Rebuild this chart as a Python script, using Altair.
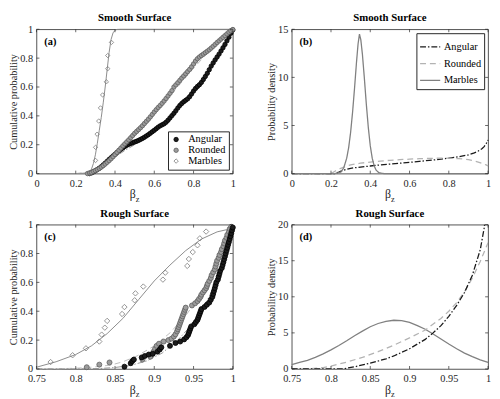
import altair as alt
import pandas as pd

FONT = "Liberation Serif, Times New Roman, Times, serif"
AX = "#262626"
W, H = 200, 147
ORDER = ["Angular", "Rounded", "Marbles"]

# ---------------- (a) Smooth surface, cumulative probability ----------------
a_ang_x = [0.27, 0.28, 0.29, 0.30, 0.31, 0.32, 0.33, 0.34, 0.35, 0.36, 0.37, 0.38, 0.39, 0.40, 0.41,
           0.42, 0.43, 0.44, 0.45, 0.46, 0.47, 0.48, 0.49, 0.50, 0.51, 0.52, 0.53, 0.54, 0.55, 0.56,
           0.57, 0.58, 0.59, 0.60, 0.61, 0.62, 0.63, 0.64, 0.65, 0.66, 0.67, 0.68, 0.69, 0.70, 0.71,
           0.72, 0.73, 0.74, 0.75, 0.76, 0.77, 0.78, 0.79, 0.80, 0.81, 0.82, 0.83, 0.84, 0.85, 0.86,
           0.87, 0.88, 0.89, 0.90, 0.91, 0.92, 0.93, 0.94, 0.95, 0.96, 0.97, 0.98, 0.99, 1.00]
a_ang_y = [0.000, 0.005, 0.012, 0.020, 0.028, 0.037, 0.048, 0.060, 0.072, 0.085, 0.098, 0.110, 0.122,
           0.134, 0.146, 0.158, 0.168, 0.178, 0.188, 0.196, 0.203, 0.209, 0.214, 0.219, 0.224, 0.230,
           0.237, 0.244, 0.252, 0.261, 0.270, 0.280, 0.290, 0.300, 0.311, 0.322, 0.331, 0.338, 0.345,
           0.356, 0.370, 0.386, 0.402, 0.418, 0.436, 0.455, 0.472, 0.486, 0.498, 0.508, 0.518, 0.533,
           0.552, 0.572, 0.590, 0.604, 0.616, 0.632, 0.652, 0.673, 0.695, 0.720, 0.745, 0.767, 0.788,
           0.808, 0.828, 0.850, 0.872, 0.895, 0.920, 0.945, 0.972, 0.995]
a_rnd_x = [0.26, 0.27, 0.28, 0.29, 0.30, 0.31, 0.32, 0.33, 0.34, 0.35, 0.36, 0.37, 0.38, 0.39, 0.40,
           0.41, 0.42, 0.43, 0.44, 0.45, 0.46, 0.47, 0.48, 0.49, 0.50, 0.51, 0.52, 0.53, 0.54, 0.55,
           0.56, 0.57, 0.58, 0.59, 0.60, 0.61, 0.62, 0.63, 0.64, 0.65, 0.66, 0.67, 0.68, 0.69, 0.70,
           0.71, 0.72, 0.73, 0.74, 0.75, 0.76, 0.77, 0.78, 0.79, 0.80, 0.81, 0.82, 0.83, 0.84, 0.85,
           0.86, 0.87, 0.88, 0.89, 0.90, 0.91, 0.92, 0.93, 0.94, 0.95, 0.96, 0.97, 0.98, 0.99, 1.00]
a_rnd_y = [0.000, 0.004, 0.009, 0.015, 0.021, 0.028, 0.036, 0.045, 0.055, 0.066, 0.078, 0.090, 0.103,
           0.117, 0.132, 0.147, 0.162, 0.177, 0.192, 0.206, 0.220, 0.234, 0.249, 0.264, 0.279, 0.292,
           0.305, 0.318, 0.332, 0.347, 0.362, 0.377, 0.393, 0.410, 0.427, 0.443, 0.458, 0.472, 0.487,
           0.503, 0.520, 0.538, 0.556, 0.575, 0.600, 0.615, 0.630, 0.646, 0.662, 0.677, 0.692, 0.707,
           0.722, 0.740, 0.760, 0.780, 0.796, 0.808, 0.818, 0.828, 0.838, 0.848, 0.858, 0.870, 0.882,
           0.895, 0.908, 0.920, 0.932, 0.944, 0.956, 0.968, 0.980, 0.990, 0.998]
a_mar_x = [0.275, 0.301, 0.301, 0.309, 0.317, 0.326, 0.337, 0.356, 0.363, 0.363, 0.382]
a_mar_y = [0.000, 0.091, 0.182, 0.273, 0.364, 0.455, 0.545, 0.636, 0.727, 0.818, 0.909]
a_fit_mar_x = [0.0, 0.25, 0.27, 0.28, 0.29, 0.30, 0.31, 0.32, 0.33, 0.34, 0.35, 0.36, 0.37, 0.38,
               0.39, 0.40, 0.41, 0.43, 1.0]
a_fit_mar_y = [0.0, 0.0, 0.01, 0.03, 0.07, 0.13, 0.21, 0.30, 0.39, 0.49, 0.60, 0.72, 0.84, 0.93,
               0.975, 0.993, 0.999, 1.0, 1.0]
a_fit_ang_x = [0.22, 0.25, 0.30, 0.35, 0.40, 0.45, 0.50, 0.60, 0.70, 0.80, 0.90, 0.95, 1.0]
a_fit_ang_y = [0.0, 0.005, 0.03, 0.07, 0.115, 0.16, 0.20, 0.30, 0.41, 0.56, 0.76, 0.87, 1.0]
a_fit_rnd_x = [0.20, 0.25, 0.30, 0.40, 0.50, 0.60, 0.70, 0.80, 0.90, 1.0]
a_fit_rnd_y = [0.0, 0.01, 0.035, 0.13, 0.265, 0.41, 0.57, 0.73, 0.88, 1.0]

# ---------------- (b) Smooth surface, probability density ----------------
b_ang_x = [0.0, 0.22, 0.24, 0.26, 0.28, 0.30, 0.35, 0.40, 0.45, 0.50, 0.55, 0.60, 0.65, 0.70, 0.75,
           0.80, 0.85, 0.90, 0.93, 0.95, 0.97, 0.98, 0.99, 1.0]
b_ang_y = [0.0, 0.0, 0.15, 0.33, 0.45, 0.55, 0.68, 0.79, 0.90, 0.99, 1.08, 1.17, 1.27, 1.37, 1.48,
           1.60, 1.75, 1.95, 2.15, 2.35, 2.60, 2.80, 3.10, 3.50]
b_rnd_x = [0.0, 0.20, 0.22, 0.25, 0.28, 0.30, 0.35, 0.40, 0.45, 0.50, 0.55, 0.60, 0.65, 0.70, 0.75,
           0.80, 0.85, 0.90, 0.93, 0.95, 0.97, 0.99, 1.0]
b_rnd_y = [0.0, 0.0, 0.25, 0.55, 0.78, 0.90, 1.08, 1.20, 1.30, 1.38, 1.45, 1.50, 1.55, 1.58, 1.60,
           1.60, 1.56, 1.45, 1.32, 1.20, 1.07, 0.90, 0.80]
b_mar_x = [0.0, 0.22, 0.25, 0.265, 0.28, 0.29, 0.30, 0.31, 0.32, 0.33, 0.338, 0.345, 0.352, 0.36,
           0.37, 0.38, 0.39, 0.40, 0.41, 0.42, 0.43, 0.445, 0.47, 1.0]
b_mar_y = [0.0, 0.0, 0.15, 0.6, 1.6, 2.7, 4.3, 6.4, 8.9, 11.6, 13.5, 14.5, 13.9, 12.4, 9.9, 7.2,
           4.8, 2.9, 1.6, 0.8, 0.35, 0.08, 0.0, 0.0]

# ---------------- (c) Rough surface, cumulative probability ----------------
c_ang_x = [0.862, 0.870, 0.872, 0.874, 0.884, 0.888, 0.893, 0.898, 0.904, 0.907, 0.909, 0.920, 0.927,
           0.933, 0.938, 0.941, 0.943, 0.944, 0.945, 0.946, 0.947, 0.951, 0.953, 0.955, 0.956, 0.957,
           0.958, 0.959, 0.960, 0.964, 0.967, 0.970, 0.972, 0.974, 0.975, 0.976, 0.977, 0.978, 0.979,
           0.981, 0.982, 0.983, 0.984, 0.986, 0.987, 0.988, 0.989, 0.990, 0.991, 0.992, 0.993, 0.994,
           0.995, 0.996, 0.997, 0.998, 0.999, 1.000]
c_ang_y = [0.016, 0.040, 0.055, 0.065, 0.080, 0.090, 0.100, 0.105, 0.120, 0.135, 0.150, 0.160, 0.180,
           0.190, 0.205, 0.220, 0.235, 0.250, 0.265, 0.280, 0.295, 0.310, 0.325, 0.340, 0.355, 0.370,
           0.385, 0.400, 0.415, 0.430, 0.445, 0.460, 0.480, 0.500, 0.520, 0.540, 0.560, 0.580, 0.600,
           0.620, 0.640, 0.660, 0.680, 0.700, 0.720, 0.740, 0.760, 0.780, 0.800, 0.820, 0.840, 0.860,
           0.880, 0.900, 0.920, 0.940, 0.960, 0.980]
c_rnd_x = [0.814, 0.830, 0.843, 0.885, 0.895, 0.898, 0.899, 0.901, 0.903, 0.906, 0.912, 0.918, 0.922,
           0.925, 0.927, 0.929, 0.930, 0.931, 0.932, 0.933, 0.934, 0.935, 0.936, 0.937, 0.938, 0.939,
           0.940, 0.948, 0.952, 0.955, 0.957, 0.959, 0.960, 0.962, 0.964, 0.966, 0.967, 0.968, 0.970,
           0.972, 0.973, 0.975, 0.977, 0.978, 0.979, 0.980, 0.982, 0.983, 0.985, 0.986, 0.988, 0.989,
           0.990, 0.992, 0.993, 0.995, 0.996, 0.998]
c_rnd_y = [0.012, 0.030, 0.045, 0.065, 0.085, 0.105, 0.120, 0.140, 0.160, 0.175, 0.190, 0.200, 0.210,
           0.225, 0.240, 0.260, 0.275, 0.290, 0.305, 0.320, 0.335, 0.350, 0.365, 0.380, 0.395, 0.410,
           0.425, 0.440, 0.455, 0.470, 0.485, 0.500, 0.515, 0.530, 0.545, 0.560, 0.575, 0.590, 0.610,
           0.630, 0.650, 0.670, 0.690, 0.710, 0.730, 0.750, 0.770, 0.790, 0.810, 0.830, 0.850, 0.870,
           0.890, 0.910, 0.930, 0.950, 0.970, 0.985]
c_mar_x = [0.768, 0.796, 0.813, 0.830, 0.833, 0.837, 0.840, 0.859, 0.862, 0.875, 0.876, 0.886, 0.911,
           0.914, 0.942, 0.944, 0.949, 0.955, 0.958, 0.966]
c_mar_y = [0.048, 0.095, 0.143, 0.190, 0.238, 0.286, 0.333, 0.381, 0.429, 0.476, 0.524, 0.571, 0.619,
           0.667, 0.714, 0.762, 0.810, 0.857, 0.905, 0.952]
c_fit_mar_x = [0.75, 0.775, 0.80, 0.82, 0.84, 0.86, 0.88, 0.90, 0.92, 0.94, 0.96, 0.98, 1.0]
c_fit_mar_y = [0.012, 0.05, 0.10, 0.16, 0.245, 0.35, 0.48, 0.61, 0.72, 0.82, 0.90, 0.95, 0.975]
c_fit_rnd_x = [0.75, 0.78, 0.80, 0.82, 0.845, 0.86, 0.878, 0.90, 0.92, 0.94, 0.96, 0.98, 1.0]
c_fit_rnd_y = [0.0, 0.002, 0.005, 0.012, 0.027, 0.05, 0.09, 0.16, 0.25, 0.37, 0.52, 0.72, 0.97]
c_fit_ang_x = [0.75, 0.80, 0.83, 0.85, 0.87, 0.89, 0.91, 0.93, 0.95, 0.97, 0.99, 1.0]
c_fit_ang_y = [0.0, 0.0, 0.003, 0.01, 0.025, 0.055, 0.11, 0.20, 0.32, 0.50, 0.78, 0.97]

# ---------------- (d) Rough surface, probability density ----------------
d_mar_x = [0.75, 0.76, 0.77, 0.78, 0.79, 0.80, 0.81, 0.82, 0.83, 0.84, 0.85, 0.86, 0.87, 0.88, 0.89,
           0.90, 0.91, 0.92, 0.93, 0.94, 0.95, 0.96, 0.97, 0.98, 0.99, 1.0]
d_mar_y = [0.6, 0.9, 1.2, 1.6, 2.1, 2.65, 3.25, 3.9, 4.6, 5.25, 5.85, 6.3, 6.6, 6.75, 6.7, 6.45, 6.0,
           5.5, 4.85, 4.15, 3.45, 2.8, 2.2, 1.7, 1.25, 0.9]
d_rnd_x = [0.75, 0.77, 0.79, 0.80, 0.82, 0.84, 0.86, 0.88, 0.90, 0.92, 0.94, 0.95, 0.96, 0.97, 0.98,
           0.99, 1.0]
d_rnd_y = [0.0, 0.0, 0.2, 0.4, 0.95, 1.6, 2.4, 3.3, 4.3, 5.4, 7.0, 8.0, 9.2, 10.7, 12.6, 14.9, 17.5]
d_ang_x = [0.75, 0.815, 0.83, 0.85, 0.87, 0.88, 0.90, 0.92, 0.93, 0.94, 0.95, 0.96, 0.97, 0.98, 0.99,
           0.995, 1.0]
d_ang_y = [0.0, 0.0, 0.3, 0.8, 1.4, 1.8, 2.8, 4.1, 5.0, 6.0, 7.3, 8.8, 10.6, 13.0, 16.5, 19.5, 24.0]

# ticks
cdf_ticks = [0, 0.2, 0.4, 0.6, 0.8, 1]
smooth_x_ticks = [0, 0.2, 0.4, 0.6, 0.8, 1]
rough_x_ticks = [0.75, 0.8, 0.85, 0.9, 0.95, 1]
b_y_ticks = [0, 5, 10, 15]
d_y_ticks = [0, 5, 10, 15, 20]

# styles
C_ANG = "#1a1a1a"
C_RND = "#b3b3b3"
C_MAR = "#808080"
DASH_ANG = [6, 2, 1.5, 2]
DASH_RND = [6, 4]


def make_panel(xdom, ydom, xticks, yticks, ytitle, title, tag, build):
    xs = alt.Scale(domain=xdom, nice=False, zero=False)
    ys = alt.Scale(domain=ydom, nice=False, zero=False)
    xax = alt.Axis(values=xticks, format="~g", labelFlush=False, labelOverlap=False, labelPadding=5)
    yax = alt.Axis(values=yticks, format="~g", labelOverlap=False, labelPadding=4)

    def X():
        return alt.X("x:Q", scale=xs, axis=xax, title=None)

    def Y():
        return alt.Y("y:Q", scale=ys, axis=yax, title=ytitle)

    layers = build(X, Y)
    tx = pd.DataFrame({"x": xticks})
    ty = pd.DataFrame({"y": yticks})
    tk = dict(color=AX, strokeWidth=0.7)
    layers += [
        alt.Chart(tx).mark_rule(**tk).encode(x=X(), y=alt.value(H), y2=alt.value(H - 3)),
        alt.Chart(tx).mark_rule(**tk).encode(x=X(), y=alt.value(0), y2=alt.value(3)),
        alt.Chart(ty).mark_rule(**tk).encode(y=Y(), x=alt.value(0), x2=alt.value(3)),
        alt.Chart(ty).mark_rule(**tk).encode(y=Y(), x=alt.value(W), x2=alt.value(W - 3)),
        alt.Chart(pd.DataFrame({"t": [tag]})).mark_text(
            font=FONT, fontSize=10.5, fontWeight="bold", align="left", baseline="middle", color="black"
        ).encode(x=alt.value(8), y=alt.value(13), text="t:N"),
        alt.Chart(pd.DataFrame({"t": ["β"]})).mark_text(
            font=FONT, fontSize=12, align="right", baseline="alphabetic", color=AX
        ).encode(x=alt.value(W / 2 + 1), y=alt.value(H + 25), text="t:N"),
        alt.Chart(pd.DataFrame({"t": ["z"]})).mark_text(
            font=FONT, fontSize=8.5, align="left", baseline="alphabetic", color=AX
        ).encode(x=alt.value(W / 2 + 1), y=alt.value(H + 29), text="t:N"),
    ]
    return alt.layer(*layers).properties(
        width=W, height=H,
        title=alt.TitleParams(title, font=FONT, fontSize=11, fontWeight="bold", color="black", offset=1),
    )


def line(X, Y, xv, yv, color, width, dash=None, clip=False):
    df = pd.DataFrame({"x": xv, "y": yv})
    kw = dict(color=color, strokeWidth=width, clip=clip)
    if dash:
        kw["strokeDash"] = dash
    return alt.Chart(df).mark_line(**kw).encode(x=X(), y=Y())


def pts(X, Y, xv, yv, shape, fill, stroke, size, filled=True):
    df = pd.DataFrame({"x": xv, "y": yv})
    if filled:
        m = alt.Chart(df).mark_point(shape=shape, filled=True, fill=fill, stroke=stroke,
                                     strokeWidth=0.8, size=size, opacity=1)
    else:
        m = alt.Chart(df).mark_point(shape=shape, filled=False, color=stroke,
                                     strokeWidth=0.8, size=size, opacity=1)
    return m.encode(x=X(), y=Y())


def build_a(X, Y):
    df = pd.concat([
        pd.DataFrame({"x": a_ang_x, "y": a_ang_y, "series": "Angular"}),
        pd.DataFrame({"x": a_rnd_x, "y": a_rnd_y, "series": "Rounded"}),
        pd.DataFrame({"x": a_mar_x, "y": a_mar_y, "series": "Marbles"}),
    ])
    leg = alt.Legend(title=None, orient="bottom-right", offset=4, padding=3, labelOffset=7, rowPadding=0,
                     strokeColor=AX, fillColor="white", labelFont=FONT, labelFontSize=10.5,
                     labelColor="black", symbolStrokeWidth=0.8)
    points = alt.Chart(df).mark_point(filled=True, opacity=1, strokeWidth=0.8).encode(
        x=X(), y=Y(),
        shape=alt.Shape("series:N", scale=alt.Scale(domain=ORDER, range=["circle", "circle", "diamond"]), legend=leg),
        fill=alt.Fill("series:N", scale=alt.Scale(domain=ORDER, range=["#1c1c1c", "#9c9c9c", "transparent"]), legend=leg),
        stroke=alt.Stroke("series:N", scale=alt.Scale(domain=ORDER, range=["#000000", "#5e5e5e", "#7a7a7a"]), legend=leg),
        size=alt.Size("series:N", scale=alt.Scale(domain=ORDER, range=[20, 20, 26]), legend=leg),
    )
    return [
        line(X, Y, a_fit_rnd_x, a_fit_rnd_y, "#bdbdbd", 1, DASH_RND),
        line(X, Y, a_fit_ang_x, a_fit_ang_y, "#8a8a8a", 0.9, DASH_ANG),
        line(X, Y, a_fit_mar_x, a_fit_mar_y, "#8c8c8c", 1),
        points,
    ]


def build_b(X, Y):
    df = pd.concat([
        pd.DataFrame({"x": b_ang_x, "y": b_ang_y, "series": "Angular"}),
        pd.DataFrame({"x": b_rnd_x, "y": b_rnd_y, "series": "Rounded"}),
        pd.DataFrame({"x": b_mar_x, "y": b_mar_y, "series": "Marbles"}),
    ])
    leg = alt.Legend(title=None, orient="top-right", offset=4, padding=3, labelOffset=3, rowPadding=0,
                     strokeColor=AX, fillColor="white", labelFont=FONT, labelFontSize=10.5,
                     labelColor="black", symbolType="stroke", symbolSize=420, symbolStrokeWidth=1.3)
    return [
        alt.Chart(df).mark_line(strokeWidth=1.3).encode(
            x=X(), y=Y(),
            stroke=alt.Stroke("series:N", scale=alt.Scale(domain=ORDER, range=[C_ANG, C_RND, C_MAR]), legend=leg),
            strokeDash=alt.StrokeDash("series:N", scale=alt.Scale(domain=ORDER, range=[DASH_ANG, DASH_RND, [1, 0]]), legend=leg),
        )
    ]


def build_c(X, Y):
    return [
        line(X, Y, c_fit_rnd_x, c_fit_rnd_y, "#bdbdbd", 1, DASH_RND),
        line(X, Y, c_fit_ang_x, c_fit_ang_y, "#8a8a8a", 0.9, DASH_ANG),
        line(X, Y, c_fit_mar_x, c_fit_mar_y, "#8c8c8c", 1),
        pts(X, Y, c_rnd_x, c_rnd_y, "circle", "#9c9c9c", "#5e5e5e", 26),
        pts(X, Y, c_ang_x, c_ang_y, "circle", "#1c1c1c", "#000000", 26),
        pts(X, Y, c_mar_x, c_mar_y, "diamond", None, "#7a7a7a", 30, filled=False),
    ]


def build_d(X, Y):
    return [
        line(X, Y, d_mar_x, d_mar_y, C_MAR, 1.3),
        line(X, Y, d_rnd_x, d_rnd_y, C_RND, 1.3, DASH_RND, clip=True),
        line(X, Y, d_ang_x, d_ang_y, C_ANG, 1.3, DASH_ANG, clip=True),
    ]


pa = make_panel([0, 1], [0, 1], smooth_x_ticks, cdf_ticks, "Cumulative probability", "Smooth Surface", "(a)", build_a)
pb = make_panel([0, 1], [0, 15], smooth_x_ticks, b_y_ticks, "Probability density", "Smooth Surface", "(b)", build_b)
pc = make_panel([0.75, 1], [0, 1], rough_x_ticks, cdf_ticks, "Cumulative probability", "Rough Surface", "(c)", build_c)
pd_ = make_panel([0.75, 1], [0, 20], rough_x_ticks, d_y_ticks, "Probability density", "Rough Surface", "(d)", build_d)

RES = dict(x="independent", y="independent", shape="independent", fill="independent",
           stroke="independent", size="independent", strokeDash="independent")
LRES = dict(shape="independent", fill="independent", stroke="independent", size="independent",
            strokeDash="independent")

top = alt.hconcat(pa, pb, spacing=29).resolve_scale(**RES).resolve_legend(**LRES)
bottom = alt.hconcat(pc, pd_, spacing=29).resolve_scale(**RES).resolve_legend(**LRES)

chart = (
    alt.vconcat(top, bottom, spacing=3)
    .resolve_scale(**RES)
    .resolve_legend(**LRES)
    .properties(padding=0, background="white")
    .configure_axis(labelFont=FONT, labelFontSize=10.5, labelColor=AX, titleFont=FONT, titleFontSize=10.5,
                    titleFontWeight="normal", titleColor=AX, ticks=False, domain=False, grid=False,
                    titlePadding=1)
    .configure_view(stroke=AX, strokeWidth=0.8)
)

chart.save("out.html", embed_options={"renderer": "svg", "actions": False})
